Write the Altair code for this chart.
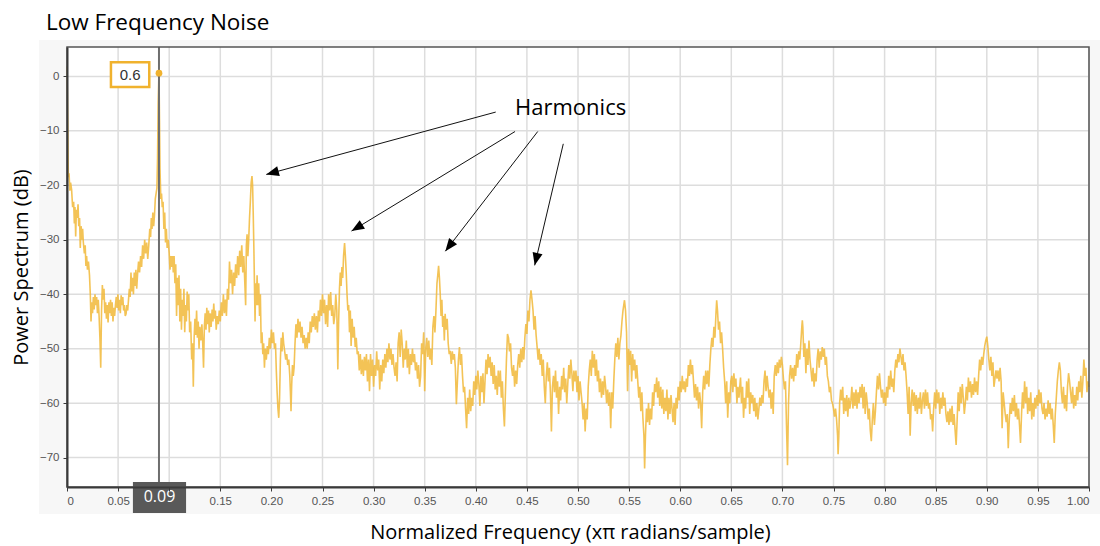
import math
import altair as alt
import pandas as pd

# ---- text -------------------------------------------------------------
TITLE = "Low Frequency Noise"
X_TITLE = "Normalized Frequency (xπ radians/sample)"
Y_TITLE = "Power Spectrum (dB)"
HARMONICS_LABEL = "Harmonics"

# ---- axes -------------------------------------------------------------
X_TICKS = [0.0, 0.05, 0.10, 0.15, 0.20, 0.25, 0.30, 0.35, 0.40, 0.45, 0.50,
           0.55, 0.60, 0.65, 0.70, 0.75, 0.80, 0.85, 0.90, 0.95, 1.00]
Y_TICKS = [0, -10, -20, -30, -40, -50, -60, -70]
X_DOMAIN = [0.0, 1.0]
Y_DOMAIN = [-75.4, 5.4]

# ---- spectrum samples (normalized frequency, dB), one list per band ----
BAND_A = [
    (0.0000, 1.8), (0.0004, -4), (0.0008, -10), (0.0013, -18.5), (0.0020, -17.8),
    (0.0028, -21), (0.0035, -19.5), (0.0045, -20.8), (0.0055, -24), (0.0065, -23),
    (0.0072, -27), (0.0078, -24), (0.0085, -29.4), (0.0092, -24.5), (0.0100, -26),
    (0.0108, -23.5), (0.0115, -27.5), (0.0123, -26), (0.0130, -31.5), (0.0138, -27.5),
    (0.0145, -30), (0.0153, -28), (0.0160, -30.5), (0.0170, -32.5), (0.0178, -31),
    (0.0185, -34.8), (0.0192, -33), (0.0200, -35.5), (0.0210, -34), (0.0220, -36.5),
    (0.0228, -40), (0.0235, -45), (0.0242, -41.5), (0.0250, -43.5), (0.0258, -40.5),
    (0.0266, -42.8), (0.0274, -40), (0.0282, -42), (0.0290, -40.5), (0.0298, -43.5),
    (0.0306, -41), (0.0314, -44), (0.0322, -48), (0.0330, -53.5), (0.0338, -43),
    (0.0346, -38.3), (0.0354, -41), (0.0362, -39), (0.0370, -43.5), (0.0378, -41.5),
    (0.0386, -44.5), (0.0394, -42), (0.0402, -45.2), (0.0410, -41.5), (0.0418, -43.5),
    (0.0426, -41), (0.0434, -44), (0.0442, -41.5), (0.0450, -45), (0.0458, -42.5),
    (0.0466, -44), (0.0474, -42), (0.0482, -40.5), (0.0490, -42.5), (0.0498, -40),
    (0.0506, -43), (0.0514, -41), (0.0522, -43.5), (0.0530, -40.2), (0.0538, -42),
    (0.0546, -40.5), (0.0554, -43), (0.0562, -42), (0.0570, -44), (0.0578, -43.6),
    (0.0586, -42), (0.0594, -43), (0.0602, -41), (0.0610, -39), (0.0618, -40.5),
    (0.0626, -36), (0.0634, -39.5), (0.0642, -37), (0.0650, -40), (0.0658, -36),
    (0.0666, -38.5), (0.0674, -35.5), (0.0682, -39), (0.0690, -36.5), (0.0700, -34),
    (0.0710, -36), (0.0720, -33), (0.0730, -35), (0.0740, -31), (0.0750, -33.5),
    (0.0760, -30), (0.0770, -32.5), (0.0780, -30.5), (0.0790, -33.5), (0.0800, -31),
    (0.0810, -28), (0.0818, -29.5), (0.0825, -26), (0.0832, -28), (0.0840, -25),
    (0.0848, -27.5), (0.0856, -25.5), (0.0864, -22.5), (0.0872, -21.5), (0.0880, -20.5),
    (0.0886, -15), (0.0892, -5), (0.0900, 0.6), (0.0905, -8), (0.0910, -17),
    (0.0918, -22.5), (0.0925, -21.5), (0.0932, -24), (0.0940, -23), (0.0948, -28),
    (0.0956, -25), (0.0964, -30.5), (0.0972, -28), (0.0980, -31.5), (0.0990, -30),
]
BAND_B = [
    (0.1000, -32.5), (0.1008, -35.5), (0.1016, -33), (0.1024, -35), (0.1032, -33),
    (0.1040, -36), (0.1048, -33), (0.1056, -38), (0.1064, -34.5), (0.1072, -44),
    (0.1080, -37), (0.1088, -42), (0.1096, -36.5), (0.1104, -45), (0.1112, -39),
    (0.1120, -46.5), (0.1128, -41), (0.1136, -44), (0.1144, -39), (0.1152, -47),
    (0.1160, -42), (0.1168, -45), (0.1176, -39.5), (0.1184, -43), (0.1192, -40),
    (0.1200, -47), (0.1210, -45), (0.1220, -52), (0.1228, -49), (0.1236, -57),
    (0.1244, -48), (0.1252, -44.5), (0.1260, -47.5), (0.1268, -43), (0.1276, -48),
    (0.1284, -45), (0.1292, -50), (0.1300, -46), (0.1310, -48.5), (0.1320, -45.5),
    (0.1328, -49), (0.1336, -53.5), (0.1344, -46), (0.1352, -43.5), (0.1360, -46.5),
    (0.1368, -42.5), (0.1376, -45.5), (0.1384, -43), (0.1392, -47), (0.1400, -43.5),
    (0.1410, -46), (0.1420, -42.8), (0.1428, -45), (0.1436, -41.7), (0.1444, -44.5),
    (0.1452, -43), (0.1460, -46.5), (0.1470, -44), (0.1480, -45.5), (0.1490, -43),
    (0.1500, -45), (0.1510, -41.5), (0.1520, -44), (0.1530, -40), (0.1540, -43.5),
    (0.1550, -41), (0.1560, -44), (0.1570, -39), (0.1580, -41), (0.1590, -34),
    (0.1600, -38), (0.1610, -35.5), (0.1620, -40), (0.1630, -36), (0.1640, -38.5),
    (0.1650, -34.5), (0.1660, -37), (0.1670, -33), (0.1680, -36.5), (0.1690, -32),
    (0.1700, -35), (0.1710, -31), (0.1720, -36), (0.1730, -33), (0.1740, -38),
    (0.1748, -42), (0.1755, -31), (0.1762, -29), (0.1770, -33), (0.1778, -30),
    (0.1786, -26), (0.1794, -23), (0.1802, -19.5), (0.1810, -18.3), (0.1816, -20),
    (0.1822, -25), (0.1828, -31), (0.1834, -38), (0.1840, -45), (0.1846, -38),
    (0.1852, -42), (0.1860, -36.5), (0.1868, -42), (0.1876, -38), (0.1884, -44),
    (0.1892, -40), (0.1900, -49), (0.1908, -47), (0.1916, -51), (0.1924, -49),
    (0.1932, -53.5), (0.1940, -50), (0.1950, -52), (0.1960, -49.5), (0.1970, -51),
    (0.1980, -48), (0.1990, -50),
]
BAND_C = [
    (0.2000, -46.5), (0.2010, -49), (0.2020, -47), (0.2030, -50), (0.2040, -49),
    (0.2048, -54), (0.2056, -58), (0.2064, -61), (0.2072, -62.7), (0.2080, -59),
    (0.2088, -52), (0.2096, -48), (0.2104, -50.5), (0.2112, -47), (0.2120, -49),
    (0.2130, -50.5), (0.2140, -52), (0.2150, -51), (0.2160, -53), (0.2170, -52),
    (0.2180, -55), (0.2186, -58), (0.2192, -61.5), (0.2198, -57), (0.2206, -53),
    (0.2214, -55), (0.2222, -53.5), (0.2230, -49.5), (0.2240, -45.5), (0.2250, -48),
    (0.2260, -44.5), (0.2270, -47), (0.2280, -45), (0.2290, -48), (0.2300, -46),
    (0.2310, -49), (0.2320, -47.5), (0.2330, -50), (0.2340, -48), (0.2350, -50),
    (0.2360, -47), (0.2370, -49), (0.2380, -45), (0.2390, -47), (0.2400, -44),
    (0.2410, -46), (0.2420, -43.5), (0.2430, -46.5), (0.2440, -44), (0.2450, -47),
    (0.2460, -43), (0.2470, -45), (0.2480, -41), (0.2490, -44), (0.2500, -40),
    (0.2510, -43.5), (0.2520, -41), (0.2530, -45.5), (0.2540, -42), (0.2550, -46),
    (0.2560, -40), (0.2570, -43), (0.2580, -39.6), (0.2590, -44), (0.2600, -42),
    (0.2610, -45.5), (0.2620, -44), (0.2630, -40), (0.2640, -43), (0.2650, -53.8),
    (0.2658, -45), (0.2666, -39), (0.2674, -36), (0.2682, -38.5), (0.2690, -35),
    (0.2698, -37), (0.2706, -33), (0.2716, -30.6), (0.2724, -33), (0.2732, -36),
    (0.2740, -40), (0.2748, -43), (0.2756, -42), (0.2764, -47), (0.2772, -43),
    (0.2780, -49.5), (0.2790, -44.5), (0.2800, -48), (0.2810, -46), (0.2820, -49.7),
    (0.2830, -48), (0.2840, -51), (0.2850, -50.5), (0.2860, -54), (0.2870, -51),
    (0.2880, -54.7), (0.2890, -52), (0.2900, -55), (0.2910, -51.5), (0.2920, -54),
    (0.2930, -51), (0.2940, -56), (0.2950, -52), (0.2960, -57.8), (0.2970, -51),
    (0.2980, -55), (0.2990, -52),
]
BAND_D = [
    (0.3000, -57), (0.3010, -53), (0.3020, -55), (0.3030, -50.5), (0.3040, -54),
    (0.3050, -52), (0.3060, -57.5), (0.3070, -53), (0.3080, -56), (0.3090, -52),
    (0.3100, -54.5), (0.3110, -51), (0.3120, -53.5), (0.3130, -50), (0.3140, -52.5),
    (0.3150, -49), (0.3160, -52), (0.3170, -50), (0.3180, -53), (0.3190, -51),
    (0.3200, -53.5), (0.3210, -55), (0.3220, -52.5), (0.3230, -56), (0.3240, -49),
    (0.3250, -47), (0.3260, -51.5), (0.3270, -46.5), (0.3280, -49), (0.3290, -53.5),
    (0.3300, -50), (0.3310, -52), (0.3320, -48.5), (0.3330, -53.5), (0.3340, -50),
    (0.3350, -54.7), (0.3360, -51), (0.3370, -53), (0.3380, -50), (0.3390, -52.5),
    (0.3400, -51), (0.3410, -54), (0.3420, -52.5), (0.3430, -55.5), (0.3440, -53),
    (0.3450, -57), (0.3460, -55), (0.3470, -49), (0.3480, -51), (0.3490, -47),
    (0.3500, -57.8), (0.3510, -50), (0.3520, -48), (0.3530, -51.5), (0.3540, -48.5),
    (0.3550, -52), (0.3560, -50), (0.3570, -53), (0.3580, -46), (0.3590, -44),
    (0.3600, -47), (0.3610, -43), (0.3620, -38), (0.3628, -36.5), (0.3636, -34.8),
    (0.3644, -37), (0.3652, -40), (0.3660, -44), (0.3668, -41), (0.3676, -46),
    (0.3684, -44), (0.3692, -48.5), (0.3700, -43.6), (0.3710, -46.5), (0.3720, -44.5),
    (0.3730, -49), (0.3740, -51), (0.3750, -50.4), (0.3760, -52.8), (0.3770, -50.5),
    (0.3780, -52), (0.3790, -51), (0.3800, -53.5), (0.3810, -60.2), (0.3820, -56),
    (0.3830, -52), (0.3840, -49.7), (0.3850, -53), (0.3860, -51), (0.3870, -55),
    (0.3880, -58), (0.3890, -57), (0.3900, -61), (0.3910, -64.6), (0.3920, -59),
    (0.3930, -62), (0.3940, -57.5), (0.3950, -61.5), (0.3960, -59), (0.3970, -60.5),
    (0.3980, -56), (0.3990, -58.5),
]
BAND_E = [
    (0.4000, -55), (0.4010, -57.5), (0.4020, -54), (0.4030, -56.5), (0.4040, -60.5),
    (0.4050, -55), (0.4060, -58), (0.4070, -54.5), (0.4080, -60), (0.4090, -56),
    (0.4100, -52), (0.4110, -54.7), (0.4120, -51), (0.4130, -53.5), (0.4140, -51.5),
    (0.4150, -55), (0.4160, -52.5), (0.4170, -56.5), (0.4180, -53), (0.4190, -57.5),
    (0.4200, -55), (0.4210, -58.5), (0.4220, -54), (0.4230, -57), (0.4240, -54),
    (0.4250, -59), (0.4260, -56), (0.4270, -61), (0.4280, -64.3), (0.4290, -58),
    (0.4300, -52), (0.4310, -47.3), (0.4320, -48), (0.4330, -50.5), (0.4340, -49),
    (0.4350, -53.5), (0.4360, -55), (0.4370, -53), (0.4380, -57), (0.4390, -54),
    (0.4400, -56.5), (0.4410, -53), (0.4420, -51), (0.4430, -53.5), (0.4440, -50),
    (0.4450, -52.5), (0.4460, -49.7), (0.4470, -52), (0.4480, -48), (0.4490, -45.5),
    (0.4500, -47.3), (0.4510, -43), (0.4520, -45), (0.4530, -41), (0.4540, -39.3),
    (0.4550, -41), (0.4560, -43), (0.4570, -46.5), (0.4580, -44), (0.4590, -47.5),
    (0.4600, -49.7), (0.4610, -52), (0.4620, -50), (0.4630, -53), (0.4640, -51),
    (0.4650, -55), (0.4660, -52), (0.4670, -57), (0.4680, -60), (0.4690, -55),
    (0.4700, -52.5), (0.4710, -56), (0.4720, -53.5), (0.4730, -58), (0.4740, -65.2),
    (0.4750, -57), (0.4760, -55), (0.4770, -58), (0.4780, -54), (0.4790, -59),
    (0.4800, -56), (0.4810, -62), (0.4820, -57), (0.4830, -59.5), (0.4840, -55),
    (0.4850, -57.5), (0.4860, -53.5), (0.4870, -58), (0.4880, -55.5), (0.4890, -60),
    (0.4900, -56.5), (0.4910, -53), (0.4920, -55.5), (0.4930, -52), (0.4940, -54.5),
    (0.4950, -57.8), (0.4960, -54), (0.4970, -56), (0.4980, -54), (0.4990, -58),
]
BAND_F = [
    (0.5000, -55), (0.5010, -59.5), (0.5020, -56), (0.5030, -58), (0.5040, -60),
    (0.5050, -63), (0.5060, -60), (0.5070, -65.2), (0.5080, -61), (0.5090, -63),
    (0.5100, -57), (0.5110, -54), (0.5120, -52), (0.5130, -55), (0.5140, -50.4),
    (0.5150, -53.5), (0.5160, -51), (0.5170, -55), (0.5180, -52), (0.5190, -56),
    (0.5200, -54), (0.5210, -58), (0.5220, -55.5), (0.5230, -59), (0.5240, -56),
    (0.5250, -58.5), (0.5260, -55), (0.5270, -57), (0.5280, -60), (0.5290, -57.5),
    (0.5300, -60.5), (0.5310, -58), (0.5320, -64.6), (0.5330, -58), (0.5340, -61),
    (0.5350, -56), (0.5360, -52), (0.5370, -49), (0.5380, -51.5), (0.5390, -48),
    (0.5400, -52), (0.5410, -49), (0.5420, -47.6), (0.5430, -45), (0.5440, -43),
    (0.5455, -41.1), (0.5465, -43), (0.5475, -47), (0.5485, -57.8), (0.5495, -50),
    (0.5505, -53), (0.5515, -50.4), (0.5525, -56), (0.5535, -51), (0.5545, -54),
    (0.5555, -52), (0.5565, -55.5), (0.5575, -53), (0.5585, -56), (0.5595, -59),
    (0.5605, -57), (0.5615, -61.5), (0.5625, -58), (0.5635, -62.7), (0.5645, -66),
    (0.5652, -72), (0.5660, -66), (0.5670, -61), (0.5680, -63.5), (0.5690, -60),
    (0.5700, -64), (0.5710, -61), (0.5720, -63), (0.5730, -58), (0.5740, -60.5),
    (0.5750, -56.5), (0.5760, -58), (0.5770, -55.3), (0.5780, -59), (0.5790, -56),
    (0.5800, -60.5), (0.5810, -57), (0.5820, -61), (0.5830, -57.5), (0.5840, -62),
    (0.5850, -59), (0.5860, -61.5), (0.5870, -57.5), (0.5880, -63), (0.5890, -59),
    (0.5900, -62), (0.5910, -58.5), (0.5920, -61), (0.5930, -63.5), (0.5940, -60),
    (0.5950, -64), (0.5960, -59), (0.5970, -61), (0.5980, -57), (0.5990, -59.5),
]
BAND_G = [
    (0.6000, -56), (0.6010, -58), (0.6020, -55), (0.6030, -57.5), (0.6040, -56),
    (0.6050, -58), (0.6060, -55.5), (0.6070, -57), (0.6080, -53), (0.6090, -55),
    (0.6100, -52), (0.6110, -54.7), (0.6120, -53), (0.6130, -56), (0.6140, -59),
    (0.6150, -56.5), (0.6160, -59.5), (0.6170, -57), (0.6180, -61), (0.6190, -58),
    (0.6200, -60), (0.6210, -64.6), (0.6220, -58), (0.6230, -55), (0.6240, -57.5),
    (0.6250, -54), (0.6260, -56.5), (0.6270, -54), (0.6280, -57), (0.6290, -53),
    (0.6300, -50), (0.6310, -48), (0.6320, -49.7), (0.6330, -46), (0.6340, -48),
    (0.6350, -43.5), (0.6357, -41.1), (0.6365, -43), (0.6375, -46.5), (0.6385, -45),
    (0.6395, -49), (0.6405, -47), (0.6415, -50), (0.6425, -53.5), (0.6435, -56),
    (0.6445, -60), (0.6455, -56), (0.6465, -62.7), (0.6475, -58), (0.6485, -60),
    (0.6495, -56), (0.6505, -55), (0.6515, -58), (0.6525, -54.5), (0.6535, -57),
    (0.6545, -55.5), (0.6555, -60), (0.6565, -57), (0.6575, -59), (0.6590, -55.3),
    (0.6600, -60), (0.6610, -57), (0.6620, -62.7), (0.6630, -59), (0.6640, -61),
    (0.6650, -56), (0.6660, -59), (0.6670, -55.5), (0.6680, -62), (0.6690, -58),
    (0.6700, -60), (0.6710, -58.5), (0.6720, -61.5), (0.6730, -59), (0.6740, -62.5),
    (0.6750, -60), (0.6760, -63), (0.6770, -61), (0.6780, -59), (0.6790, -60.5),
    (0.6800, -58.5), (0.6810, -60), (0.6820, -56), (0.6830, -54), (0.6840, -57.8),
    (0.6850, -55), (0.6860, -57), (0.6870, -59), (0.6880, -57.5), (0.6890, -61),
    (0.6900, -58), (0.6910, -62), (0.6920, -55), (0.6930, -53), (0.6940, -55),
    (0.6950, -52.5), (0.6960, -54.5), (0.6970, -52), (0.6980, -53.5), (0.6990, -51.5),
]
BAND_H = [
    (0.7000, -53), (0.7010, -55.5), (0.7020, -57.5), (0.7030, -56), (0.7040, -64),
    (0.7050, -71.4), (0.7060, -60), (0.7070, -55), (0.7080, -53), (0.7090, -55.5),
    (0.7100, -53.5), (0.7110, -56), (0.7120, -53), (0.7130, -55), (0.7140, -51),
    (0.7150, -53.5), (0.7160, -50.5), (0.7170, -52), (0.7180, -49), (0.7190, -46),
    (0.7195, -44.8), (0.7200, -46), (0.7210, -51.5), (0.7220, -49), (0.7230, -54.5),
    (0.7240, -50), (0.7250, -53), (0.7260, -48.5), (0.7270, -52), (0.7280, -54),
    (0.7290, -56), (0.7300, -53.5), (0.7310, -57), (0.7320, -54.5), (0.7330, -56),
    (0.7340, -52), (0.7350, -50), (0.7360, -53.5), (0.7370, -50.5), (0.7380, -52),
    (0.7390, -49.7), (0.7400, -51.5), (0.7410, -50), (0.7420, -53), (0.7430, -51.5),
    (0.7440, -55), (0.7450, -56), (0.7460, -58), (0.7470, -57), (0.7480, -59.5),
    (0.7490, -60), (0.7500, -61), (0.7510, -62.5), (0.7520, -61), (0.7530, -63),
    (0.7540, -66), (0.7545, -69.4), (0.7552, -66), (0.7560, -60), (0.7570, -57.5),
    (0.7580, -59.5), (0.7590, -57), (0.7600, -62), (0.7610, -59), (0.7620, -61.5),
    (0.7630, -58.5), (0.7640, -62.5), (0.7650, -59), (0.7660, -61), (0.7670, -59.5),
    (0.7680, -57), (0.7690, -61), (0.7700, -58), (0.7710, -60.5), (0.7720, -57.5),
    (0.7730, -61), (0.7740, -58), (0.7750, -60), (0.7760, -57), (0.7770, -59),
    (0.7780, -56.5), (0.7790, -61), (0.7800, -57), (0.7810, -62), (0.7820, -58),
    (0.7830, -60), (0.7840, -63), (0.7850, -61), (0.7860, -65), (0.7870, -67),
    (0.7880, -63), (0.7890, -60), (0.7900, -64), (0.7910, -61.5), (0.7920, -58),
    (0.7930, -55), (0.7940, -57.5), (0.7950, -54.5), (0.7960, -57), (0.7970, -59),
    (0.7980, -57.5), (0.7990, -60),
]
BAND_I = [
    (0.8000, -58), (0.8010, -60.5), (0.8020, -57), (0.8030, -59), (0.8040, -55),
    (0.8050, -57.5), (0.8060, -54), (0.8070, -57), (0.8080, -55.5), (0.8090, -58),
    (0.8100, -54), (0.8110, -52), (0.8120, -53.5), (0.8130, -51), (0.8140, -52.5),
    (0.8150, -50), (0.8160, -51.5), (0.8170, -53), (0.8180, -51), (0.8190, -54),
    (0.8200, -52.5), (0.8210, -55), (0.8220, -58), (0.8230, -62), (0.8240, -57),
    (0.8250, -66), (0.8260, -60), (0.8270, -57.5), (0.8280, -60.5), (0.8290, -58),
    (0.8300, -61.5), (0.8310, -58.5), (0.8320, -62), (0.8330, -59), (0.8340, -61),
    (0.8350, -58), (0.8360, -62), (0.8370, -59.5), (0.8380, -58), (0.8390, -61),
    (0.8400, -57.5), (0.8410, -60.5), (0.8420, -58), (0.8430, -61), (0.8440, -60),
    (0.8450, -63), (0.8460, -62), (0.8470, -65.2), (0.8480, -61), (0.8490, -58),
    (0.8500, -61), (0.8510, -57.5), (0.8520, -60), (0.8530, -58), (0.8540, -62),
    (0.8550, -59), (0.8560, -61), (0.8570, -58), (0.8580, -60.5), (0.8590, -59),
    (0.8600, -62), (0.8610, -63.5), (0.8620, -61.5), (0.8630, -64), (0.8640, -61),
    (0.8650, -63.5), (0.8660, -60.5), (0.8670, -64), (0.8680, -62), (0.8690, -65),
    (0.8700, -67.7), (0.8710, -63), (0.8720, -58), (0.8730, -61.5), (0.8740, -57),
    (0.8750, -60), (0.8760, -56.5), (0.8770, -59), (0.8780, -62), (0.8790, -60),
    (0.8800, -57), (0.8810, -59.5), (0.8820, -55.3), (0.8830, -58), (0.8840, -56),
    (0.8850, -59), (0.8860, -56.5), (0.8870, -58.5), (0.8880, -55.3), (0.8890, -58),
    (0.8900, -56), (0.8910, -58.5), (0.8920, -55), (0.8930, -52), (0.8940, -54),
    (0.8950, -51.5), (0.8960, -53), (0.8970, -51), (0.8980, -49.5), (0.8990, -48.5),
]
BAND_J = [
    (0.9000, -47.8), (0.9010, -49.5), (0.9020, -52), (0.9030, -54), (0.9040, -51.5),
    (0.9050, -55), (0.9060, -52.5), (0.9070, -57), (0.9080, -55.5), (0.9090, -54),
    (0.9100, -55.5), (0.9110, -54), (0.9120, -56), (0.9130, -53.5), (0.9140, -56),
    (0.9150, -64.6), (0.9160, -58), (0.9170, -60), (0.9180, -62), (0.9190, -63.5),
    (0.9200, -62), (0.9210, -68.3), (0.9220, -63), (0.9230, -60), (0.9240, -62),
    (0.9250, -59), (0.9260, -61.5), (0.9270, -58.5), (0.9280, -62.5), (0.9290, -60),
    (0.9300, -63), (0.9310, -61), (0.9320, -64), (0.9330, -67.3), (0.9340, -62),
    (0.9350, -58), (0.9360, -61), (0.9370, -56), (0.9380, -60), (0.9390, -57),
    (0.9400, -62), (0.9410, -59), (0.9420, -61.5), (0.9430, -58), (0.9440, -63),
    (0.9450, -60), (0.9460, -62.5), (0.9470, -59), (0.9480, -61), (0.9490, -58.5),
    (0.9500, -60.5), (0.9510, -57.5), (0.9520, -60), (0.9530, -58), (0.9540, -61),
    (0.9550, -62), (0.9560, -60), (0.9570, -63), (0.9580, -61), (0.9590, -62.5),
    (0.9600, -59.5), (0.9610, -62), (0.9620, -60), (0.9630, -63), (0.9640, -61),
    (0.9650, -64), (0.9660, -67.3), (0.9670, -62), (0.9680, -59), (0.9690, -56),
    (0.9700, -54), (0.9710, -52.5), (0.9720, -54), (0.9730, -58), (0.9740, -60),
    (0.9750, -57), (0.9760, -61), (0.9770, -58.5), (0.9780, -61.5), (0.9790, -57),
    (0.9800, -54.5), (0.9810, -56), (0.9820, -58), (0.9830, -60), (0.9840, -57),
    (0.9850, -61), (0.9860, -58.5), (0.9870, -60.5), (0.9880, -57), (0.9890, -59.5),
    (0.9900, -56), (0.9910, -58), (0.9920, -55), (0.9930, -59), (0.9940, -56),
    (0.9950, -52), (0.9960, -55), (0.9970, -53.5), (0.9980, -58), (0.9990, -56),
    (1.0000, -57),
]
BANDS = [BAND_A, BAND_B, BAND_C, BAND_D, BAND_E, BAND_F, BAND_G, BAND_H, BAND_I, BAND_J]

# ---- cursor readout -----------------------------------------------------
CURSOR_FREQ = 0.09
CURSOR_DB = 0.6

# ---- harmonic call-outs (label position and arrow start/end) ----------
HARMONICS_X = 0.4384
HARMONICS_Y = -5.8
ARROW_FROM_X = [0.4195, 0.4384, 0.4606, 0.4856]
ARROW_FROM_Y = [-6.55, -10.12, -10.12, -12.38]
ARROW_TO_X = [0.1950, 0.2784, 0.3702, 0.4576]
ARROW_TO_Y = [-18.0, -28.4, -32.1, -34.7]

# ---- layout -----------------------------------------------------------
W, H = 1022, 440
PAD_L, PAD_T = 67, 47
TRACE_COLOR = "#F1B838"
ACCENT = "#F0B22E"
XBOX_HALF = 0.026  # half-width of the frequency readout box, in axis units

spectrum = pd.DataFrame([pt for band in BANDS for pt in band], columns=["freq", "db"])

x_scale = alt.Scale(domain=X_DOMAIN, nice=False, zero=False)
y_scale = alt.Scale(domain=Y_DOMAIN, nice=False, zero=False)

# tick labels hidden beneath the frequency readout box are left blank
x_label_expr = (
    "datum.value == 0 ? '0' : "
    "(abs(datum.value - %s) < %s ? '' : format(datum.value, '.2f'))" % (CURSOR_FREQ, XBOX_HALF)
)
# one shared axis definition per channel so every layer merges into the same axis
X_AXIS = alt.Axis(values=X_TICKS, labelExpr=x_label_expr, grid=False, zindex=1,
                  titlePadding=16, titleX=W / 2 - 8)
Y_AXIS = alt.Axis(values=Y_TICKS, format="d", grid=False, zindex=1, titlePadding=8)

one_row = pd.DataFrame({"k": [0]})


def xenc(field="freq"):
    return alt.X(field, type="quantitative", scale=x_scale, axis=X_AXIS, title=X_TITLE)


def yenc(field="db"):
    return alt.Y(field, type="quantitative", scale=y_scale, axis=Y_AXIS, title=Y_TITLE)


# light panel behind the plot and its labels
panel = alt.Chart(one_row).mark_rect(color="#F7F7F7").encode(
    x=alt.value(-28), x2=alt.value(W + 11), y=alt.value(-7), y2=alt.value(H + 27)
)
plot_bg = alt.Chart(one_row).mark_rect(color="white").encode(
    x=alt.value(0), x2=alt.value(W), y=alt.value(0), y2=alt.value(H)
)

grid_x = alt.Chart(pd.DataFrame({"freq": X_TICKS})).mark_rule(
    color="#DDDDDD", strokeWidth=1.5
).encode(x=xenc(), y=alt.value(0), y2=alt.value(H))
grid_y = alt.Chart(pd.DataFrame({"db": Y_TICKS})).mark_rule(
    color="#DDDDDD", strokeWidth=1.5
).encode(y=yenc(), x=alt.value(0), x2=alt.value(W))

trace = alt.Chart(spectrum).mark_line(
    color=TRACE_COLOR, strokeWidth=1.6, opacity=0.85, interpolate="linear"
).encode(x=xenc(), y=yenc(), order="freq:Q")

cursor_df = pd.DataFrame({"freq": [CURSOR_FREQ], "db": [CURSOR_DB]})

cursor_line = alt.Chart(cursor_df).mark_rule(color="#6E6E6E", strokeWidth=2).encode(
    x=xenc(), y=alt.value(0), y2=alt.value(H)
)
cursor_dot = alt.Chart(cursor_df).mark_circle(color=ACCENT, size=45, opacity=1).encode(
    x=xenc(), y=yenc()
)

readout_df = pd.DataFrame({
    "x0": [CURSOR_FREQ - 0.047], "x1": [CURSOR_FREQ - 0.0095],
    "y0": [CURSOR_DB + 2.0], "y1": [CURSOR_DB - 2.55],
    "xc": [CURSOR_FREQ - 0.0283], "yc": [CURSOR_DB - 0.25], "label": [f"{CURSOR_DB}"],
})
readout_box = alt.Chart(readout_df).mark_rect(
    fill="white", stroke=ACCENT, strokeWidth=2.5
).encode(x=xenc("x0"), x2="x1", y=yenc("y0"), y2="y1")
readout_text = alt.Chart(readout_df).mark_text(
    font="Liberation Sans", fontSize=15, color="#333333", baseline="middle"
).encode(x=xenc("xc"), y=yenc("yc"), text="label:N")

xbox_df = pd.DataFrame({"x0": [CURSOR_FREQ - 0.0255], "x1": [CURSOR_FREQ + 0.0265],
                        "xc": [CURSOR_FREQ + 0.0005], "label": [f"{CURSOR_FREQ:.2f}"]})
xbox = alt.Chart(xbox_df).mark_rect(color="#595959").encode(
    x=xenc("x0"), x2="x1", y=alt.value(H - 5), y2=alt.value(H + 26)
)
xbox_text = alt.Chart(xbox_df).mark_text(
    font="Open Sans", fontSize=16, color="white", baseline="middle"
).encode(x=xenc("xc"), y=alt.value(H + 10), text="label:N")

# arrows: shafts plus rotated heads pointing along each shaft
px_per_x = W / (X_DOMAIN[1] - X_DOMAIN[0])
px_per_db = H / (Y_DOMAIN[1] - Y_DOMAIN[0])
angles = []
for fx, fy, tx, ty in zip(ARROW_FROM_X, ARROW_FROM_Y, ARROW_TO_X, ARROW_TO_Y):
    dx = (tx - fx) * px_per_x
    dy = -(ty - fy) * px_per_db
    angles.append(math.degrees(math.atan2(dx, -dy)) % 360)

arrows_df = pd.DataFrame({"fx": ARROW_FROM_X, "fy": ARROW_FROM_Y,
                          "tx": ARROW_TO_X, "ty": ARROW_TO_Y, "angle": angles})
shafts = alt.Chart(arrows_df).mark_rule(color="#111111", strokeWidth=1).encode(
    x=xenc("fx"), y=yenc("fy"), x2="tx", y2="ty"
)
heads = alt.Chart(arrows_df).mark_point(
    shape="M0,0L-0.8,2L0.8,2Z", filled=True, color="#000000", opacity=1, size=160
).encode(
    x=xenc("tx"), y=yenc("ty"),
    angle=alt.Angle("angle:Q", scale=alt.Scale(domain=[0, 360], range=[0, 360])),
)
harmonics = alt.Chart(pd.DataFrame({"x": [HARMONICS_X], "y": [HARMONICS_Y],
                                    "t": [HARMONICS_LABEL]})).mark_text(
    font="Open Sans", fontSize=22, color="#000000", align="left", baseline="middle"
).encode(x=xenc("x"), y=yenc("y"), text="t:N")

border = alt.Chart(one_row).mark_rect(
    fillOpacity=0, stroke="#555555", strokeWidth=1.5
).encode(x=alt.value(0), x2=alt.value(W), y=alt.value(0), y2=alt.value(H))

chart = alt.layer(
    panel, plot_bg, grid_x, grid_y, trace, cursor_line, cursor_dot,
    readout_box, readout_text, xbox, xbox_text, shafts, heads, harmonics, border,
).properties(
    width=W, height=H,
    title=alt.Title(TITLE, anchor="start", frame="group", dx=-21, offset=6,
                    font="Open Sans", fontSize=22.5, fontWeight="normal", color="#000000"),
    autosize=alt.AutoSizeParams(type="none"),
    padding={"left": PAD_L, "top": PAD_T, "right": 1100 - PAD_L - W, "bottom": 546 - PAD_T - H},
    background="white",
).configure_view(stroke=None).configure_axis(
    domainColor="#3A3A3A", domainWidth=2, tickColor="#3A3A3A", tickSize=4, tickWidth=1,
    labelColor="#555555", labelFont="Liberation Sans", labelFontSize=11.5, labelPadding=4,
    titleFont="Open Sans", titleFontSize=20, titleFontWeight="normal", titleColor="#000000",
)

chart.save("out.html", embed_options={"renderer": "svg", "actions": False})
